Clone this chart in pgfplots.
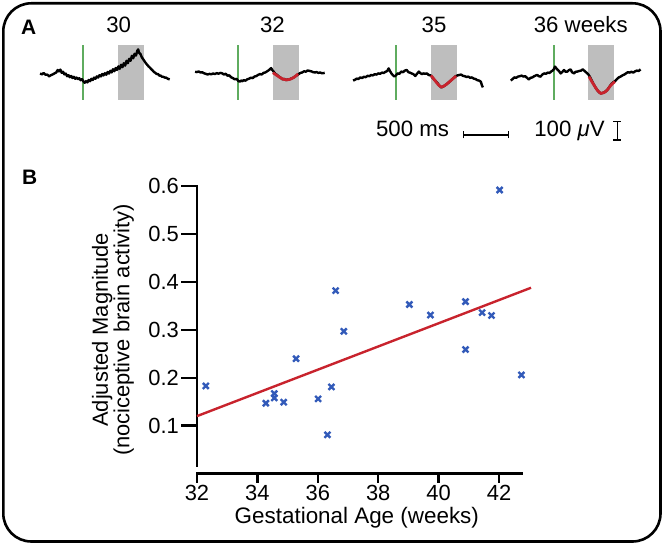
\documentclass[border=0pt]{standalone}
\usepackage{pgfplots}
\pgfplotsset{compat=1.18}
\usepackage{fontspec}
\setmainfont{Liberation Sans}
\definecolor{tracegreen}{RGB}{95,172,95}
\definecolor{boxgray}{RGB}{190,190,190}
\definecolor{tracered}{RGB}{200,35,45}
\definecolor{ptblue}{RGB}{50,90,185}
\definecolor{ink}{RGB}{0,0,0}
\pgfplotsset{trace/.style={hide axis, scale only axis, width=135bp, height=60bp,
  xmin=-500, xmax=1000, ymin=-150, ymax=150, clip=false, anchor=south west}}
\newcommand{\bigfont}{\fontsize{22.3}{26}\selectfont}
\begin{document}
\begin{tikzpicture}
\useasboundingbox (0,0) rectangle (664bp,545bp);
\draw[line width=2.6bp, rounded corners=28bp] (3.3bp,3.5bp) rectangle (660.5bp,541.7bp);
\node[font=\fontsize{21}{24}\selectfont\bfseries, anchor=base west, inner sep=0] at (21bp,510bp) {A};
\node[font=\fontsize{21}{24}\selectfont\bfseries, anchor=base west, inner sep=0] at (22bp,360bp) {B};
\node[font=\bigfont, anchor=base, inner sep=0] at (118.7bp,512bp) {30};
\node[font=\bigfont, anchor=base, inner sep=0] at (272.5bp,512bp) {32};
\node[font=\bigfont, anchor=base, inner sep=0] at (434bp,512bp) {35};
\node[font=\bigfont, anchor=base, inner sep=0] at (580.8bp,512bp) {36 weeks};

% ---- panel B frame: spines and ticks (filled bars, page units)
\fill[ink] (195.6bp,78.2bp) rectangle (198.4bp,360.1bp);
\fill[ink] (195.6bp,70bp) rectangle (523.2bp,72.8bp);
\fill[ink] (181bp,118.1bp) rectangle (197bp,120.5bp);
\fill[ink] (181bp,166bp) rectangle (197bp,168.4bp);
\fill[ink] (181bp,213.9bp) rectangle (197bp,216.3bp);
\fill[ink] (181bp,261.8bp) rectangle (197bp,264.2bp);
\fill[ink] (181bp,309.7bp) rectangle (197bp,312.1bp);
\fill[ink] (181bp,357.6bp) rectangle (197bp,360bp);
\fill[ink] (195.8bp,62bp) rectangle (198.2bp,71bp);
\fill[ink] (256.2bp,62bp) rectangle (258.6bp,71bp);
\fill[ink] (316.6bp,62bp) rectangle (319bp,71bp);
\fill[ink] (377bp,62bp) rectangle (379.4bp,71bp);
\fill[ink] (437.4bp,62bp) rectangle (439.8bp,71bp);
\fill[ink] (497.8bp,62bp) rectangle (500.2bp,71bp);

% ---- trace 1 (30 weeks)
\begin{axis}[trace, at={(38.3bp,440bp)}]
\addplot[fill=boxgray, draw=none] coordinates {(380,-125) (670,-125) (670,150) (380,150)} -- cycle;
\addplot[draw=tracegreen, line width=2bp] coordinates {(0,-125) (0,150)};
\addplot[draw=ink, line width=2.4bp, line join=round] coordinates {
(-480,8) (-460,3) (-440,10) (-420,1) (-400,2) (-380,-7) (-360,-1) (-340,3) (-320,8) (-300,13)
(-285,25) (-270,18) (-255,27) (-240,11) (-225,16) (-210,3) (-195,7) (-180,-6) (-165,-1) (-150,-11)
(-135,-5) (-120,-15) (-105,-9) (-90,-19) (-75,-13) (-60,-21) (-45,-16) (-30,-26) (-15,-21) (0,-31)
(15,-39) (30,-31) (45,-37) (60,-25) (75,-31) (90,-19) (105,-25) (120,-13) (135,-19) (150,-7)
(165,-13) (180,-1) (195,-7) (210,5) (225,-2) (240,9) (255,1) (270,15) (285,7) (300,21)
(315,13) (330,29) (345,19) (360,35) (375,25) (390,43) (405,31) (420,51) (435,39) (450,59)
(465,47) (480,71) (495,59) (510,81) (525,71) (540,96) (555,84) (570,106) (585,97) (600,121)
(610,128) (620,111) (635,105) (650,89) (665,79) (680,69) (695,59) (710,51) (725,43) (740,37)
(755,29) (770,23) (785,15) (800,11) (815,5) (830,5) (845,-3) (860,-3) (875,-9) (890,-9)
(905,-13) (920,-13) (940,-19) (960,-22)};
\end{axis}

% ---- trace 2 (32 weeks)
\begin{axis}[trace, at={(193.3bp,441.7bp)}]
\addplot[fill=boxgray, draw=none] coordinates {(380,-133) (670,-133) (670,142) (380,142)} -- cycle;
\addplot[draw=tracegreen, line width=2bp] coordinates {(0,-133) (0,142)};
\addplot[draw=ink, line width=2.4bp, line join=round] coordinates {
(-480,8) (-460,6) (-440,9) (-420,4) (-400,5) (-380,0) (-360,-3) (-340,-6) (-320,-3) (-300,-5)
(-280,-1) (-260,-4) (-240,1) (-220,-2) (-200,2) (-180,0) (-160,-6) (-140,-2) (-120,-12) (-100,-10)
(-80,-20) (-60,-24) (-40,-30) (-20,-28) (0,-38) (15,-42) (30,-36) (45,-40) (60,-34) (80,-37)
(100,-30) (120,-27) (140,-22) (160,-24) (180,-16) (200,-14) (220,-8) (240,-4) (260,-6) (280,2)
(300,4) (320,10) (340,16) (355,22) (365,26) (375,18) (390,10) (410,-2) (430,-8) (450,-16)
(470,-22) (490,-30) (510,-28) (530,-34) (550,-31) (570,-30) (590,-26) (610,-22) (630,-16) (650,-10)
(670,-4) (690,2) (710,4) (730,10) (750,8) (770,14) (790,12) (810,10) (830,6) (850,4)
(870,6) (890,2) (910,4) (930,0) (960,2)};
\addplot[draw=tracered, line width=2.8bp, smooth] coordinates {
(385,3) (420,-8) (460,-20) (500,-30) (540,-33) (580,-29) (620,-20) (665,-3)};
\end{axis}

% ---- trace 3 (35 weeks)
\begin{axis}[trace, at={(351.3bp,440bp)}]
\addplot[fill=boxgray, draw=none] coordinates {(380,-125) (670,-125) (670,150) (380,150)} -- cycle;
\addplot[draw=tracegreen, line width=2bp] coordinates {(0,-125) (0,150)};
\addplot[draw=ink, line width=2.4bp, line join=round] coordinates {
(-480,-28) (-460,-24) (-440,-18) (-420,-20) (-400,-12) (-380,-15) (-360,-9) (-340,-11) (-320,-4) (-300,-6)
(-280,0) (-260,-2) (-240,4) (-220,2) (-200,8) (-180,6) (-160,12) (-140,10) (-120,16) (-100,20)
(-85,33) (-70,20) (-55,8) (-40,0) (-20,-8) (0,0) (15,8) (35,6) (55,17) (75,14)
(95,22) (115,25) (135,14) (150,12) (170,8) (190,4) (210,-5) (230,6) (250,17) (265,10)
(285,4) (300,8) (320,6) (340,8) (360,0) (380,-2) (400,-12) (420,-22) (440,-32) (460,-42)
(480,-54) (500,-62) (520,-58) (540,-52) (560,-46) (580,-38) (600,-30) (620,-22) (640,-14) (660,-6)
(680,-2) (700,0) (720,2) (740,-4) (760,-6) (780,-10) (800,-8) (820,-14) (840,-12) (860,-18)
(880,-20) (900,-26) (920,-28) (940,-34) (950,-50) (962,-62)};
\addplot[draw=tracered, line width=2.8bp, smooth] coordinates {
(385,-2) (420,-22) (460,-45) (500,-60) (540,-52) (580,-38) (620,-22) (665,-5)};
\end{axis}

% ---- trace 4 (36 weeks)
\begin{axis}[trace, at={(509bp,440bp)}]
\addplot[fill=boxgray, draw=none] coordinates {(380,-125) (670,-125) (670,150) (380,150)} -- cycle;
\addplot[draw=tracegreen, line width=2bp] coordinates {(0,-125) (0,150)};
\addplot[draw=ink, line width=2.4bp, line join=round] coordinates {
(-480,-28) (-460,-20) (-440,-12) (-420,-14) (-400,-8) (-380,-6) (-360,-3) (-340,-8) (-320,-6) (-300,-14)
(-280,-22) (-260,-14) (-240,-12) (-220,-6) (-200,-2) (-185,0) (-170,-6) (-150,-8) (-130,2) (-110,8)
(-90,6) (-70,12) (-50,10) (-30,18) (-15,22) (0,30) (11,42) (25,34) (40,26) (55,20)
(74,8) (90,14) (111,25) (130,16) (148,17) (165,24) (185,28) (200,14) (222,8) (240,16)
(259,17) (280,20) (300,22) (320,28) (340,20) (360,12) (380,4) (400,-10) (420,-28) (440,-46)
(460,-62) (480,-75) (500,-86) (520,-92) (540,-90) (560,-86) (580,-80) (600,-70) (620,-56) (640,-44)
(660,-36) (680,-30) (700,-20) (720,-12) (740,-8) (760,-2) (780,2) (800,8) (820,14) (840,12)
(860,16) (880,12) (900,18) (920,22) (940,20) (962,28)};
\addplot[draw=tracered, line width=2.8bp, smooth] coordinates {
(389,-8) (430,-40) (480,-75) (520,-92) (555,-88) (590,-76) (630,-52) (677,-33)};
\end{axis}

% ---- scale bars
\node[font=\bigfont, anchor=base, inner sep=0] at (412.5bp,408.3bp) {500 ms};
\draw[line width=1.2bp] (463.3bp,410bp) -- (508.3bp,410bp);
\draw[line width=1.2bp] (463.3bp,406.5bp) -- (463.3bp,413.5bp);
\draw[line width=1.2bp] (508.3bp,406.5bp) -- (508.3bp,413.5bp);
\node[font=\bigfont, anchor=base, inner sep=0] at (569.5bp,408.3bp) {100 \textit{μ}V};
\draw[line width=1.2bp] (617.3bp,405bp) -- (617.3bp,423.3bp);
\draw[line width=1.2bp] (613.3bp,405bp) -- (621.3bp,405bp);
\draw[line width=1.2bp] (613.3bp,423.3bp) -- (621.3bp,423.3bp);

% ---- panel B
\begin{axis}[
  at={(197bp,71.4bp)}, anchor=south west, scale only axis,
  width=326.2bp, height=287.4bp,
  xmin=32, xmax=42.8, ymin=0, ymax=0.6, clip=false,
  axis lines*=left,
  axis line style={draw=none},
  xtick={32,34,36,38,40,42}, ytick={0.1,0.2,0.3,0.4,0.5,0.6},
  major tick length=0pt,
  tick label style={font=\fontsize{22}{26}\selectfont},
  /pgf/number format/assume math mode=true,
  yticklabel style={/pgf/number format/fixed, /pgf/number format/fixed zerofill,
    /pgf/number format/precision=1, anchor=east, inner sep=0pt, xshift=-18bp},
  xticklabel style={anchor=north, inner sep=0pt, yshift=-11bp},
  xlabel={Gestational Age (weeks)},
  ylabel={Adjusted Magnitude\\(nociceptive brain activity)},
  every axis x label/.style={at={(axis description cs:0.49,-0.1719)}, anchor=base,
    font=\fontsize{22.5}{26}\selectfont},
  every axis y label/.style={at={(axis description cs:-0.2575,0.5)}, anchor=center,
    rotate=90, align=center, font=\fontsize{22}{20.5}\selectfont},
]
\addplot[draw=tracered, line width=2.4bp] coordinates {(32,0.120) (43.06,0.388)};
\addplot[only marks, mark=x, mark size=4.2bp, color=ptblue, mark options={line width=2.4bp}] coordinates {
(32.29,0.183) (34.28,0.147) (34.56,0.167) (34.56,0.158) (34.87,0.149)
(35.28,0.240) (36.01,0.156) (36.32,0.081) (36.45,0.181) (36.59,0.382)
(36.86,0.297) (39.03,0.353) (39.73,0.331) (40.89,0.359) (40.89,0.259)
(41.44,0.336) (41.75,0.330) (42.02,0.592) (42.74,0.206)};
\end{axis}
\end{tikzpicture}
\end{document}
